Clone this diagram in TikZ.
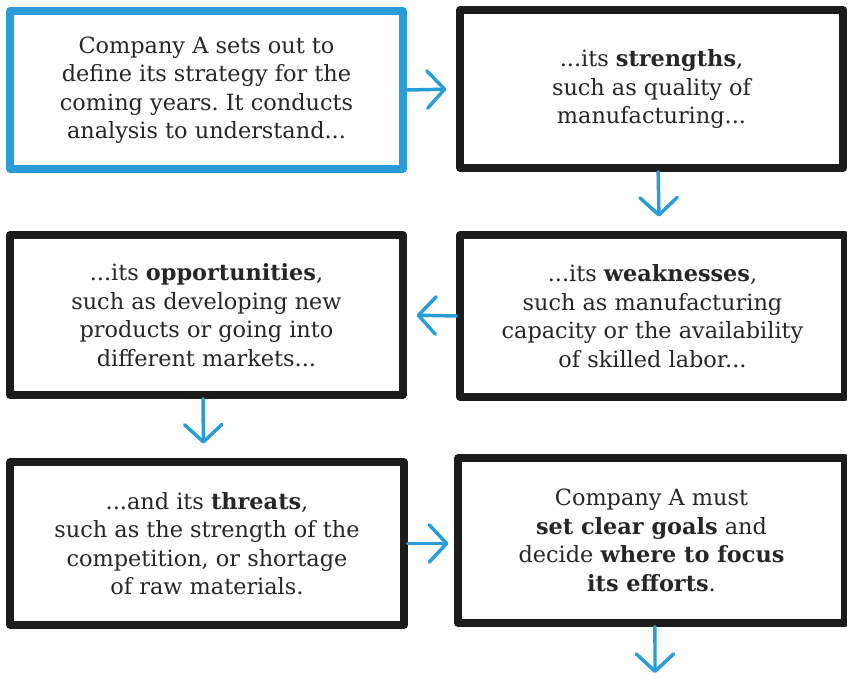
\documentclass[tikz,border=0pt]{standalone}
\usepackage{fontspec}
\setmainfont{DejaVu Serif}
\frenchspacing
\usetikzlibrary{arrows.meta}
\definecolor{skyblue}{RGB}{42,157,216}
\definecolor{inkblack}{RGB}{28,28,28}
\tikzset{
  box/.style={draw=inkblack, line width=5.5pt, line join=round, inner sep=0pt,
    align=center, text=black!85, font=\fontsize{16.8}{21.4}\selectfont},
  firstbox/.style={box, draw=skyblue},
  flow/.style={draw=skyblue, line width=2.6pt, line cap=round,
    -{Straight Barb[length=13pt,width=28pt,round]}}
}
\begin{document}
\begin{tikzpicture}[x=0.75pt,y=-0.75pt]
\useasboundingbox (0,0) rectangle (847,678);
\node[firstbox, minimum width=294.75pt, minimum height=118.5pt] (b1) at (206.5,90)
  {Company A sets out to\\define its strategy for the\\coming years. It conducts\\analysis to understand...};
\node[box, minimum width=287.25pt, minimum height=118.5pt] (b2) at (651.5,89)
  {...its \textbf{strengths},\\such as quality of\\manufacturing...};
\node[box, minimum width=294.75pt, minimum height=120pt] (b3) at (206.5,315)
  {...its \textbf{opportunities},\\such as developing new\\products or going into\\different markets...};
\node[box, minimum width=288.75pt, minimum height=121.5pt] (b4) at (652.5,316)
  {...its \textbf{weaknesses},\\such as manufacturing\\capacity or the availability\\of skilled labor...};
\node[box, minimum width=295.5pt, minimum height=122.25pt] (b5) at (207,543.5)
  {...and its \textbf{threats},\\such as the strength of the\\competition, or shortage\\of raw materials.};
\node[box, minimum width=290.25pt, minimum height=123.75pt] (b6) at (651.5,540.5)
  {Company A must\\\textbf{set clear goals} and\\decide \textbf{where to focus}\\\textbf{its efforts}.};
\coordinate (end) at (655,673);
\draw[flow, shorten >=7.5pt] (b1.east) -- (b2.west);
\draw[flow, shorten >=11pt] ([xshift=5pt]b2.south) -- ([xshift=5pt]b4.north);
\draw[flow, shorten >=7.5pt] (b4.west) -- (b3.east);
\draw[flow, shorten >=11pt] ([xshift=-2.6pt]b3.south) -- ([xshift=-2.6pt]b5.north);
\draw[flow, shorten >=4.5pt] (b5.east) -- (b5.east -| b6.west);
\draw[flow] ([xshift=2.6pt]b6.south) -- (end);
\end{tikzpicture}
\end{document}
